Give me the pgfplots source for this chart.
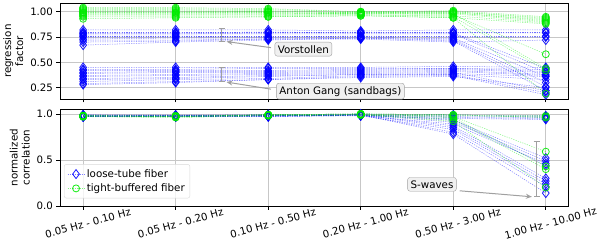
\documentclass[border=0pt]{standalone}
\usepackage{pgfplots}
\pgfplotsset{compat=1.18}
\usepackage{pgfplotstable}
\usepackage{fontspec}
\setmainfont{DejaVu Sans}
\usetikzlibrary{arrows.meta}
\definecolor{lb}{RGB}{0,0,255}
\definecolor{tg}{RGB}{0,235,0}
\definecolor{ann}{RGB}{160,160,160}

% top: regression factor, loose-tube (b1-b12 upper group, b13-b24 lower group)
\pgfplotstableread{
x b1 b2 b3 b4 b5 b6 b7 b8 b9 b10 b11 b12 b13 b14 b15 b16 b17 b18 b19 b20 b21 b22 b23 b24
0 0.82 0.80 0.79 0.78 0.76 0.76 0.75 0.73 0.72 0.70 0.67 0.78 0.45 0.43 0.42 0.40 0.39 0.37 0.36 0.34 0.33 0.31 0.29 0.28
1 0.82 0.80 0.79 0.78 0.76 0.76 0.75 0.74 0.72 0.71 0.70 0.78 0.45 0.43 0.42 0.41 0.40 0.38 0.37 0.35 0.34 0.33 0.31 0.30
2 0.82 0.80 0.80 0.78 0.76 0.75 0.75 0.74 0.73 0.73 0.72 0.79 0.45 0.44 0.42 0.41 0.40 0.39 0.38 0.37 0.36 0.34 0.33 0.33
3 0.81 0.80 0.79 0.78 0.76 0.76 0.75 0.74 0.73 0.74 0.74 0.79 0.45 0.44 0.43 0.42 0.41 0.40 0.39 0.38 0.38 0.37 0.36 0.35
4 0.82 0.80 0.79 0.78 0.76 0.75 0.73 0.72 0.70 0.71 0.74 0.79 0.46 0.44 0.44 0.43 0.42 0.41 0.40 0.39 0.38 0.38 0.37 0.36
5 0.82 0.80 0.44 0.40 0.76 0.75 0.30 0.26 0.72 0.22 0.36 0.79 0.45 0.43 0.41 0.40 0.38 0.37 0.22 0.36 0.20 0.33 0.18 0.25
}\topblue
% top: regression factor, tight-buffered
\pgfplotstableread{
x g1 g2 g3 g4 g5 g6 g7 g8 g9 g10 g11 g12
0 1.04 1.03 1.02 1.01 1.00 0.99 0.98 0.97 0.96 0.95 0.93 0.99
1 1.04 1.03 1.02 1.01 1.00 0.99 0.98 0.97 0.96 0.95 0.94 0.99
2 1.03 1.02 1.01 1.00 1.00 0.99 0.98 0.97 0.96 0.95 0.95 0.99
3 1.00 1.00 0.99 0.99 0.99 0.98 0.98 0.97 0.97 0.96 0.96 0.98
4 1.01 1.00 1.00 0.99 0.99 0.98 0.97 0.96 0.95 0.94 0.94 0.98
5 0.95 0.94 0.93 0.92 0.91 0.90 0.58 0.89 0.42 0.88 0.19 0.44
}\topgreen
% bottom: normalized correlation, loose-tube
\pgfplotstableread{
x b1 b2 b3 b4 b5 b6 b7 b8 b9 b10 b11 b12 b13 b14
0 0.99 0.98 0.98 0.97 0.97 0.98 0.97 0.98 0.97 0.98 0.97 0.98 0.97 0.99
1 0.99 0.98 0.98 0.97 0.97 0.97 0.98 0.97 0.97 0.98 0.97 0.98 0.97 0.98
2 0.99 0.99 0.98 0.98 0.98 0.97 0.98 0.98 0.97 0.98 0.97 0.98 0.98 0.99
3 1.00 0.99 0.99 0.99 0.98 0.99 0.99 0.98 0.99 0.99 0.98 0.99 0.99 0.99
4 0.99 0.98 0.97 0.96 0.95 0.93 0.91 0.89 0.87 0.85 0.83 0.80 0.78 0.94
5 0.98 0.97 0.96 0.95 0.94 0.52 0.49 0.46 0.30 0.27 0.24 0.21 0.14 0.44
}\botblue
% bottom: normalized correlation, tight-buffered
\pgfplotstableread{
x g1 g2 g3 g4 g5 g6 g7
0 0.97 0.98 0.98 0.97 0.98 0.97 0.98
1 0.98 0.97 0.97 0.96 0.97 0.97 0.98
2 0.99 0.99 0.99 0.98 0.99 0.98 0.99
3 1.00 0.99 1.00 0.99 0.99 0.99 1.00
4 0.99 0.98 0.97 0.96 0.94 0.92 0.99
5 0.98 0.97 0.59 0.43 0.40 0.20 0.96
}\botgreen

\newcommand\lblfont{\fontsize{10.3}{12}\selectfont}
\pgfplotsset{
  lt/.style={color=lb, mark=diamond, mark size=4.5pt, line width=0.5pt,
    dash pattern=on 1.2pt off 1.2pt, draw opacity=0.5,
    mark options={solid, fill=none, draw opacity=0.9, line width=0.8pt}},
  tb/.style={color=tg, mark=o, mark size=3.5pt, line width=0.5pt,
    dash pattern=on 1.2pt off 1.2pt, draw opacity=0.5,
    mark options={solid, fill=none, draw opacity=0.9, line width=0.8pt}},
  common/.style={
    scale only axis, width=508pt, anchor=south west,
    xmin=-0.25, xmax=5.24, xtick={0,...,5},
    grid=major, major grid style={color=black!22, line width=0.8pt},
    tick align=outside, xtick pos=bottom, ytick pos=left,
    major tick length=3.5pt,
    tick style={black, line width=0.7pt},
    axis line style={line width=0.8pt},
    clip mode=individual,
    tick label style={font=\fontsize{10.2}{12}\selectfont},
    /pgf/number format/assume math mode=true,
    ylabel style={align=center, font=\lblfont},
  },
}

\begin{document}
\begin{tikzpicture}
\path[use as bounding box] (0,0) rectangle (598pt,252pt);
\begin{axis}[common, at={(60pt,153pt)}, height=95.7pt,
  ymin=0.138, ymax=1.083, ytick={0.25,0.5,0.75,1},
  yticklabel style={/pgf/number format/fixed, /pgf/number format/precision=2, /pgf/number format/fixed zerofill},
  xticklabels=\empty,
  ylabel={regression\\factor}]
\pgfplotsinvokeforeach{1,...,24}{\addplot[lt] table[x=x, y=b#1]{\topblue};}
\pgfplotsinvokeforeach{1,...,12}{\addplot[tb] table[x=x, y=g#1]{\topgreen};}
\draw[ann, line width=1pt, {Bar[width=6pt]}-{Bar[width=6pt]}] (axis cs:1.5,0.70) -- (axis cs:1.5,0.84);
\draw[ann, line width=1pt, {Bar[width=6pt]}-{Bar[width=6pt]}] (axis cs:1.5,0.31) -- (axis cs:1.5,0.45);
\draw[ann, line width=1pt, -{Stealth[length=6pt,width=5pt]}] (axis cs:2.03,0.645) -- (axis cs:1.55,0.705);
\draw[ann, line width=1pt, -{Stealth[length=6pt,width=5pt]}] (axis cs:2.03,0.235) -- (axis cs:1.55,0.305);
\node[draw=ann, fill=black!6, rounded corners=2.5pt, inner sep=3pt, font=\lblfont] at (axis cs:2.38,0.63) {Vorstollen};
\node[draw=ann, fill=black!6, rounded corners=2.5pt, inner sep=3pt, font=\lblfont] at (axis cs:2.78,0.215) {Anton Gang (sandbags)};
\end{axis}
\begin{axis}[common, at={(60pt,46pt)}, height=96.7pt,
  ymin=0, ymax=1.05, ytick={0,0.5,1},
  yticklabel style={/pgf/number format/fixed, /pgf/number format/precision=1, /pgf/number format/fixed zerofill},
  xticklabels={0.05 Hz - 0.10 Hz, 0.05 Hz - 0.20 Hz, 0.10 Hz - 0.50 Hz, 0.20 Hz - 1.00 Hz, 0.50 Hz - 3.00 Hz, 1.00 Hz - 10.00 Hz},
  xticklabel style={rotate=15, anchor=center, xshift=5pt},
  xticklabel shift=15pt,
  ylabel={normalized\\correlation},
  legend style={at={(0.008,0.08)}, anchor=south west, draw=black!15, rounded corners=2pt,
    fill=white, fill opacity=0.8, text opacity=1, font=\lblfont,
    row sep=1pt, inner sep=3pt},
  legend cell align=left]
\addplot[lt] table[x=x, y=b1]{\botblue};
\addlegendentry{loose-tube fiber}
\addplot[tb] table[x=x, y=g1]{\botgreen};
\addlegendentry{tight-buffered fiber}
\pgfplotsinvokeforeach{2,...,14}{\addplot[lt, forget plot] table[x=x, y=b#1]{\botblue};}
\pgfplotsinvokeforeach{2,...,7}{\addplot[tb, forget plot] table[x=x, y=g#1]{\botgreen};}
\draw[ann, line width=1pt, {Bar[width=6pt]}-{Bar[width=6pt]}] (axis cs:4.9,0.10) -- (axis cs:4.9,0.71);
\draw[ann, line width=1pt, -{Stealth[length=6pt,width=5pt]}] (axis cs:4.07,0.165) -- (axis cs:4.85,0.10);
\node[draw=ann, fill=black!6, rounded corners=2.5pt, inner sep=3pt, font=\lblfont] at (axis cs:3.77,0.235) {S-waves};
\end{axis}
\end{tikzpicture}
\end{document}
